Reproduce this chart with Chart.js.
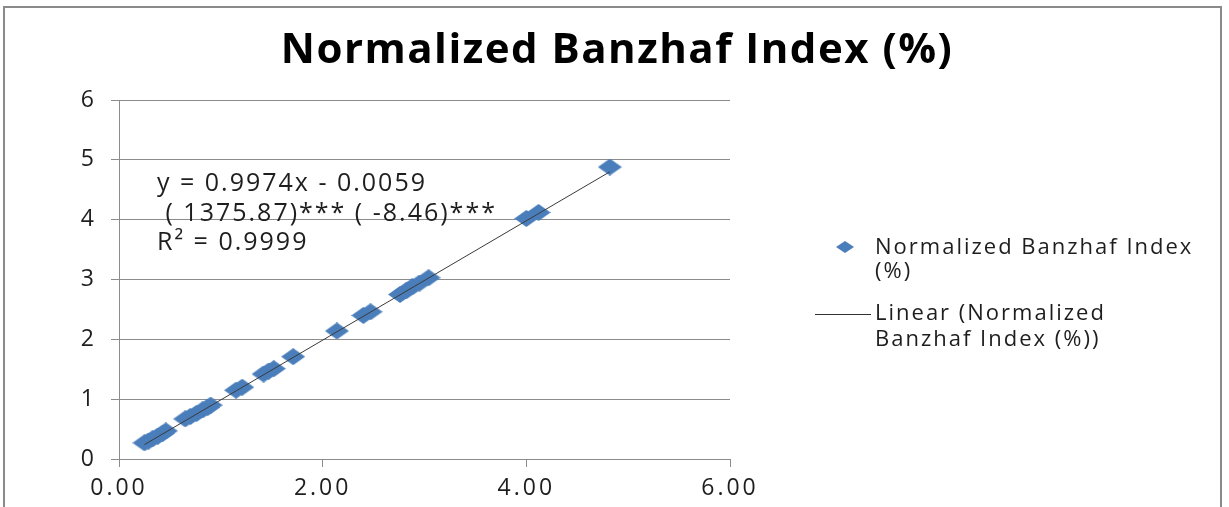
<!DOCTYPE html>
<html>
<head>
<meta charset="utf-8">
<script src="https://cdn.jsdelivr.net/npm/chart.js@4.4.1/dist/chart.umd.min.js"></script>
<style>
    body { margin: 0; background: #fff; }
    #frame { position: absolute; left: 3px; top: 6px; width: 1219px; height: 530px; border: 2px solid #8a8a8a; box-sizing: border-box; }
    #banzhaf_chart { position: absolute; left: 0; top: 0; }
</style>
</head>
<body>
<div id="frame"></div>
<canvas id="banzhaf_chart" width="1229" height="507"></canvas>
<script>
// values
const banzhaf_x = [0.25, 0.29, 0.33, 0.38, 0.43, 0.46, 0.65, 0.70, 0.76, 0.82, 0.87, 0.90,
                   1.15, 1.21, 1.42, 1.47, 1.52, 1.71, 2.14, 2.40, 2.47,
                   2.76, 2.82, 2.88, 2.95, 3.04, 4.00, 4.12, 4.82];
const banzhaf_y = [0.27, 0.30, 0.34, 0.38, 0.43, 0.47, 0.67, 0.71, 0.76, 0.82, 0.86, 0.90,
                   1.15, 1.20, 1.42, 1.47, 1.51, 1.71, 2.14, 2.40, 2.46,
                   2.75, 2.81, 2.88, 2.94, 3.03, 4.02, 4.12, 4.88];
const trend_x = [0.25, 4.82];
const trend_y = [0.24, 4.80];

const x_ticks = [0, 2, 4, 6];
const y_ticks = [0, 1, 2, 3, 4, 5, 6];

const chart_title = 'Normalized Banzhaf Index (%)';
const eq_lines = ['y = 0.9974x - 0.0059', ' ( 1375.87)*** ( -8.46)***', 'R\u00b2 = 0.9999'];
const legend_lines = [['Normalized Banzhaf Index', '(%)'], ['Linear (Normalized', 'Banzhaf Index (%))']];

const blue = '#4a7ebb';
const grid_gray = '#8c8c8c';
const text_col = '#1e1e1e';

function make_diamond(w, h, color) {
    let c = document.createElement('canvas');
    c.width = w;
    c.height = h;
    let g = c.getContext('2d');
    g.fillStyle = color;
    g.beginPath();
    g.moveTo(w / 2, 0);
    g.lineTo(w, h / 2);
    g.lineTo(w / 2, h);
    g.lineTo(0, h / 2);
    g.closePath();
    g.fill();
    return c;
}

let diamond = make_diamond(24, 17, blue);

// the original picture is stretched sideways, so text gets some extra spacing
const notes_plugin = {
    id: 'notes',
    beforeDraw(chart) {
        chart.ctx.letterSpacing = '3px';
    },
    afterDraw(chart) {
        let ctx = chart.ctx;
        ctx.save();
        ctx.fillStyle = '#000';
        ctx.textBaseline = 'middle';
        ctx.textAlign = 'center';
        ctx.letterSpacing = '1.5px';
        ctx.font = 'bold 42px "Open Sans"';
        ctx.fillText(chart_title, 617, 51);

        ctx.fillStyle = text_col;
        ctx.textAlign = 'left';
        ctx.letterSpacing = '2px';
        ctx.font = '25px "Open Sans"';
        let eq_y = [184, 214, 243];
        eq_lines.forEach((t, i) => ctx.fillText(t, 157, eq_y[i]));

        ctx.letterSpacing = '2px';
        ctx.font = '22px "Open Sans"';
        // scatter entry
        ctx.drawImage(make_diamond(18, 12, blue), 836, 241);
        ctx.fillText(legend_lines[0][0], 875, 248);
        ctx.fillText(legend_lines[0][1], 875, 272);
        // trend line entry
        ctx.strokeStyle = '#333';
        ctx.lineWidth = 1;
        ctx.beginPath();
        ctx.moveTo(815, 314.5);
        ctx.lineTo(871, 314.5);
        ctx.stroke();
        ctx.fillText(legend_lines[1][0], 875, 314);
        ctx.fillText(legend_lines[1][1], 875, 340);
        ctx.restore();
        ctx.letterSpacing = '0px';
    }
};

function pts(xs, ys) {
    return xs.map((x, i) => ({ x: x, y: ys[i] }));
}

let ctx = document.getElementById('banzhaf_chart').getContext('2d');

const tick_font = { family: '"Open Sans"', size: 23 };

const config = {
    type: 'scatter',
    data: {
        datasets: [
            {
                type: 'line',
                label: 'Linear (Normalized Banzhaf Index (%))',
                data: pts(trend_x, trend_y),
                borderColor: '#3a3a3a',
                borderWidth: 1,
                pointRadius: 0,
                fill: false
            },
            {
                label: 'Normalized Banzhaf Index (%)',
                data: pts(banzhaf_x, banzhaf_y),
                pointStyle: diamond,
                pointRadius: 10,
                backgroundColor: blue
            }
        ]
    },
    options: {
        responsive: false,
        animation: false,
        layout: { padding: { left: 0, right: 499, top: 100, bottom: 0 } },
        plugins: {
            legend: { display: false },
            tooltip: { enabled: false },
            title: { display: false }
        },
        scales: {
            x: {
                type: 'linear',
                min: 0,
                max: 6,
                afterBuildTicks: s => { s.ticks = x_ticks.map(v => ({ value: v })); },
                afterFit: s => { s.height = 48; },
                ticks: {
                    callback: v => v.toFixed(2),
                    font: tick_font,
                    color: text_col,
                    padding: 8,
                    maxRotation: 0
                },
                grid: { drawOnChartArea: false, drawTicks: true, tickLength: 8, color: grid_gray },
                border: { color: grid_gray }
            },
            y: {
                min: 0,
                max: 6,
                afterBuildTicks: s => { s.ticks = y_ticks.map(v => ({ value: v })); },
                afterFit: s => { s.width = 119; },
                ticks: {
                    font: tick_font,
                    color: text_col,
                    padding: 14
                },
                grid: { drawTicks: true, tickLength: 8, color: grid_gray },
                border: { color: grid_gray }
            }
        }
    },
    plugins: [notes_plugin]
};

let created_chart = new Chart(ctx, config);
</script>
</body>
</html>
